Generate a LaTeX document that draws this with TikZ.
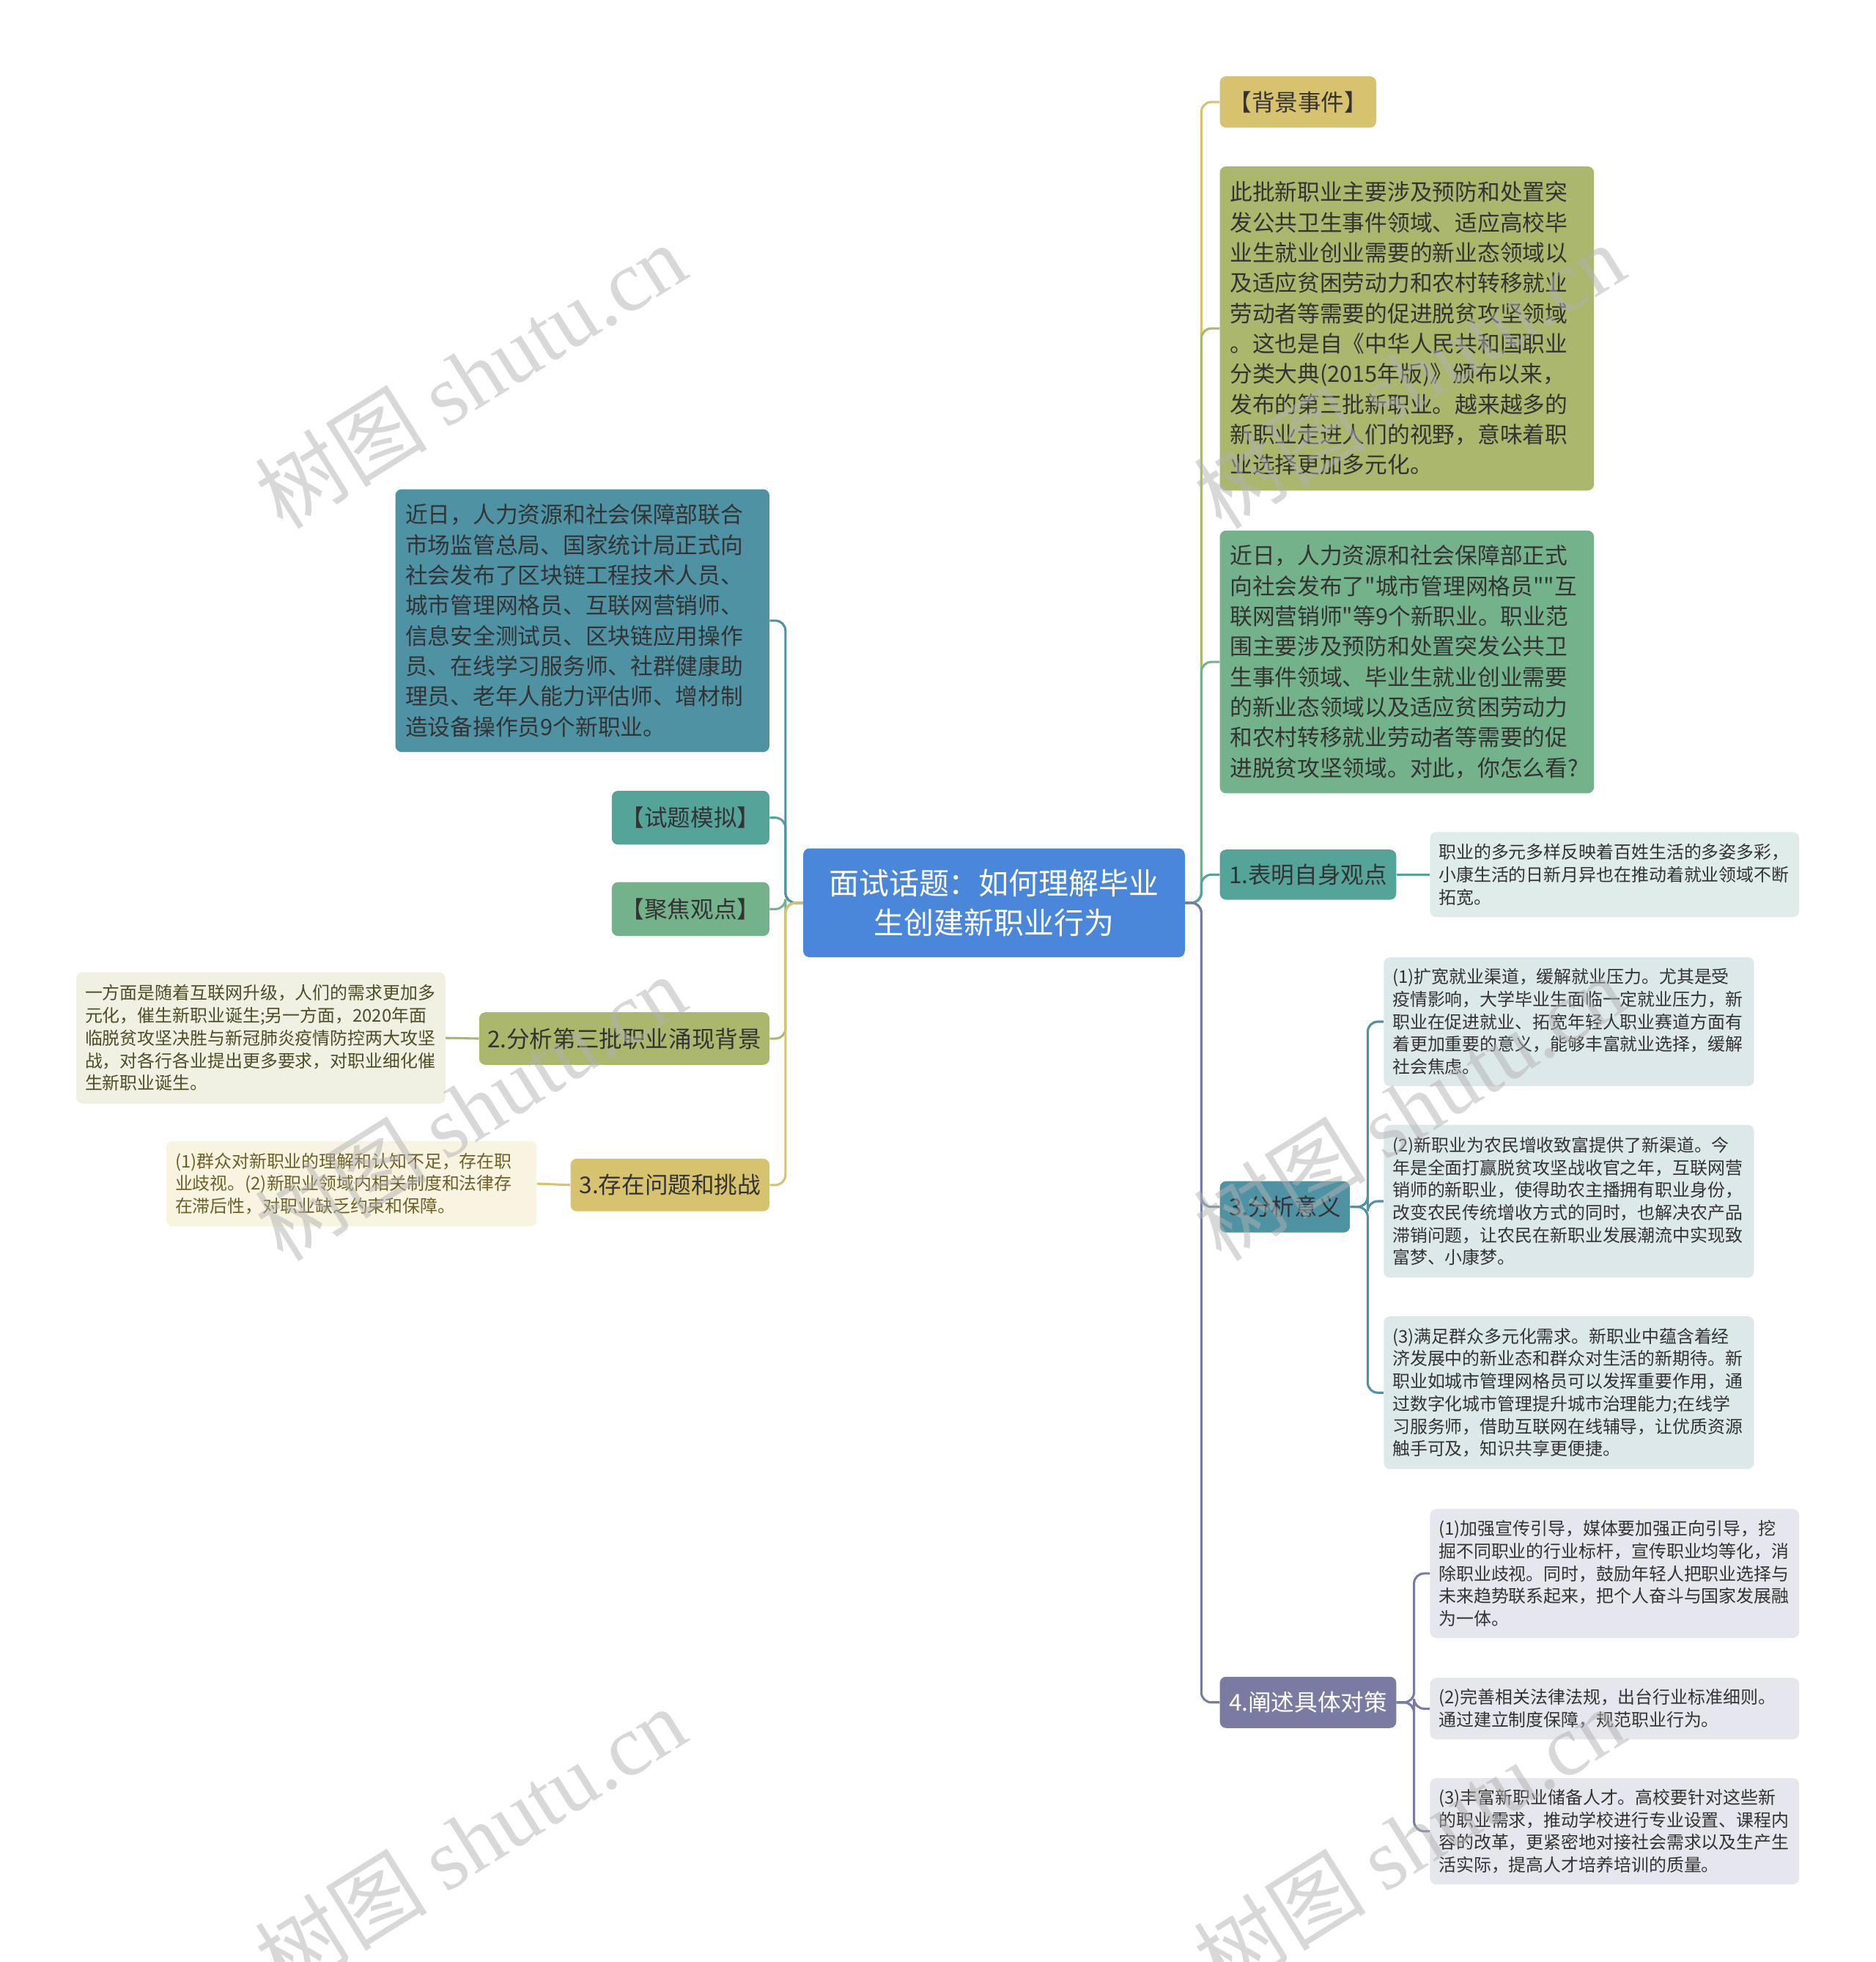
\documentclass[tikz,border=0pt]{standalone}
\usepackage{fontspec}
\setmainfont{Noto Sans CJK SC}[Ligatures=TeXOff]
\newfontfamily\wmlatin{Liberation Serif}
\definecolor{cRoot}{HTML}{4A86DA}
\definecolor{cBlue}{HTML}{4E92A3}
\definecolor{cTeal}{HTML}{55A49A}
\definecolor{cGreen}{HTML}{74B28C}
\definecolor{cOlive}{HTML}{ABB76C}
\definecolor{cGold}{HTML}{D6C26F}
\definecolor{cPurple}{HTML}{7A7BA3}
\definecolor{lOlive}{HTML}{F1F1E3}
\definecolor{lGold}{HTML}{F8F4E1}
\definecolor{lTeal}{HTML}{DFECEA}
\definecolor{lBlue}{HTML}{DDE8EB}
\definecolor{lPurple}{HTML}{E6E6EE}
\definecolor{txt}{HTML}{333333}
\definecolor{txtOlive}{HTML}{4D4D26}
\definecolor{txtGold}{HTML}{6E5F25}
\begin{document}
\begin{tikzpicture}[x=1pt,y=-1pt,
  box/.style={rectangle, rounded corners=5pt, inner sep=0pt, align=left, text=txt},
  big/.style={box, font=\fontsize{18}{24.2}\selectfont},
  small/.style={box, font=\fontsize{14}{18}\selectfont},
  lvl/.style={box, font=\fontsize{18.5}{22}\selectfont},
  twb/.style={minimum width=#1pt, text width=#1pt-16pt, inner xsep=8pt},
  tws/.style={minimum width=#1pt, text width=#1pt-14pt, inner xsep=7pt},
  conn/.style={line width=1.8pt, rounded corners=8pt},
  wm/.style={rotate=32, text=black!30, text opacity=0.5, font=\fontsize{69}{74}\selectfont}]
\useasboundingbox (0,0) rectangle (1499,1568);
\fill[white] (0,0) rectangle (1499,1568);

% root
\node[box, fill=cRoot, text=white, align=center, minimum width=305pt, minimum height=87pt,
  font=\fontsize{24}{32}\selectfont] (root) at (794.5,721.5) {面试话题：如何理解毕业\\生创建新职业行为};

% left side
\node[big, fill=cBlue, twb=299, minimum height=210pt] (L1) at (465.5,496)
 {近日，人力资源和社会保障部联合\\市场监管总局、国家统计局正式向\\社会发布了区块链工程技术人员、\\城市管理网格员、互联网营销师、\\信息安全测试员、区块链应用操作\\员、在线学习服务师、社群健康助\\理员、老年人能力评估师、增材制\\造设备操作员9个新职业。};
\node[lvl, fill=cTeal, minimum width=126pt, minimum height=43pt] (Lq) at (552,653.5) {【试题模拟】};
\node[lvl, fill=cGreen, minimum width=126pt, minimum height=43pt] (Lf) at (552,726.5) {【聚焦观点】};
\node[lvl, fill=cOlive, minimum width=232pt, minimum height=42pt] (L2) at (499,830) {2.分析第三批职业涌现背景};
\node[small, fill=lOlive, text=txtOlive, tws=295, minimum height=105pt] (L2c) at (208.5,829.5)
 {一方面是随着互联网升级，人们的需求更加多\\元化，催生新职业诞生;另一方面，2020年面\\临脱贫攻坚决胜与新冠肺炎疫情防控两大攻坚\\战，对各行各业提出更多要求，对职业细化催\\生新职业诞生。};
\node[lvl, fill=cGold, minimum width=159pt, minimum height=42pt] (L3) at (535.5,947) {3.存在问题和挑战};
\node[small, fill=lGold, text=txtGold, tws=296, minimum height=68pt] (L3c) at (281,946)
 {(1)群众对新职业的理解和认知不足，存在职\\业歧视。(2)新职业领域内相关制度和法律存\\在滞后性，对职业缺乏约束和保障。};

% right side
\node[lvl, fill=cGold, minimum width=125pt, minimum height=41pt] (R1) at (1037.5,81.5) {【背景事件】};
\node[big, fill=cOlive, twb=299, minimum height=259pt] (R2) at (1124.5,262.5)
 {此批新职业主要涉及预防和处置突\\发公共卫生事件领域、适应高校毕\\业生就业创业需要的新业态领域以\\及适应贫困劳动力和农村转移就业\\劳动者等需要的促进脱贫攻坚领域\\。这也是自《中华人民共和国职业\\分类大典(2015年版)》颁布以来，\\发布的第三批新职业。越来越多的\\新职业走进人们的视野，意味着职\\业选择更加多元化。};
\node[big, fill=cGreen, twb=299, minimum height=210pt] (R3) at (1124.5,529)
 {近日，人力资源和社会保障部正式\\向社会发布了"城市管理网格员""互\\联网营销师"等9个新职业。职业范\\围主要涉及预防和处置突发公共卫\\生事件领域、毕业生就业创业需要\\的新业态领域以及适应贫困劳动力\\和农村转移就业劳动者等需要的促\\进脱贫攻坚领域。对此，你怎么看?};
\node[lvl, fill=cTeal, minimum width=141pt, minimum height=40pt] (R4) at (1045.5,699) {1.表明自身观点};
\node[small, fill=lTeal, tws=295, minimum height=68pt] (R4c) at (1290.5,699)
 {职业的多元多样反映着百姓生活的多姿多彩，\\小康生活的日新月异也在推动着就业领域不断\\拓宽。};
\node[lvl, fill=cBlue, minimum width=104pt, minimum height=41pt] (R5) at (1027,964.5) {3.分析意义};
\node[small, fill=lBlue, tws=296, minimum height=103pt] (R5a) at (1254,816.5)
 {(1)扩宽就业渠道，缓解就业压力。尤其是受\\疫情影响，大学毕业生面临一定就业压力，新\\职业在促进就业、拓宽年轻人职业赛道方面有\\着更加重要的意义，能够丰富就业选择，缓解\\社会焦虑。};
\node[small, fill=lBlue, tws=296, minimum height=122pt] (R5b) at (1254,960)
 {(2)新职业为农民增收致富提供了新渠道。今\\年是全面打赢脱贫攻坚战收官之年，互联网营\\销师的新职业，使得助农主播拥有职业身份，\\改变农民传统增收方式的同时，也解决农产品\\滞销问题，让农民在新职业发展潮流中实现致\\富梦、小康梦。};
\node[small, fill=lBlue, tws=296, minimum height=122pt] (R5c) at (1254,1113)
 {(3)满足群众多元化需求。新职业中蕴含着经\\济发展中的新业态和群众对生活的新期待。新\\职业如城市管理网格员可以发挥重要作用，通\\过数字化城市管理提升城市治理能力;在线学\\习服务师，借助互联网在线辅导，让优质资源\\触手可及，知识共享更便捷。};
\node[lvl, fill=cPurple, text=white, minimum width=141pt, minimum height=41pt] (R6) at (1045.5,1360.5) {4.阐述具体对策};
\node[small, fill=lPurple, tws=295, minimum height=103pt] (R6a) at (1290.5,1257.5)
 {(1)加强宣传引导，媒体要加强正向引导，挖\\掘不同职业的行业标杆，宣传职业均等化，消\\除职业歧视。同时，鼓励年轻人把职业选择与\\未来趋势联系起来，把个人奋斗与国家发展融\\为一体。};
\node[small, fill=lPurple, tws=295, minimum height=49pt] (R6b) at (1290.5,1365.5)
 {(2)完善相关法律法规，出台行业标准细则。\\通过建立制度保障，规范职业行为。};
\node[small, fill=lPurple, tws=295, minimum height=85pt] (R6c) at (1290.5,1463.5)
 {(3)丰富新职业储备人才。高校要针对这些新\\的职业需求，推动学校进行专业设置、课程内\\容的改革，更紧密地对接社会需求以及生产生\\活实际，提高人才培养培训的质量。};

% connectors left
\draw[conn, draw=cGreen] (root.west) -- ++(-14,0) |- (Lf.east);
\draw[conn, draw=cTeal] (root.west) -- ++(-14,0) |- (Lq.east);
\draw[conn, draw=cBlue] (root.west) -- ++(-14,0) |- (L1.east);
\draw[conn, draw=cOlive] (root.west) -- ++(-14,0) |- (L2.east);
\draw[conn, draw=cGold] (root.west) -- ++(-14,0) |- (L3.east);
\draw[conn, draw=cOlive] (L2.west) -- (L2c.east);
\draw[conn, draw=cGold] (L3.west) -- (L3c.east);
% connectors right
\draw[conn, draw=cGold] (root.east) -- ++(13,0) |- (R1.west);
\draw[conn, draw=cOlive] (root.east) -- ++(13,0) |- (R2.west);
\draw[conn, draw=cGreen] (root.east) -- ++(13,0) |- (R3.west);
\draw[conn, draw=cTeal] (root.east) -- ++(13,0) |- (R4.west);
\draw[conn, draw=cBlue] (root.east) -- ++(13,0) |- (R5.west);
\draw[conn, draw=cPurple] (root.east) -- ++(13,0) |- (R6.west);
\draw[conn, draw=cTeal] (R4.east) -- (R4c.west);
\draw[conn, draw=cBlue] (R5.east) -- ++(14,0) |- (R5a.west);
\draw[conn, draw=cBlue] (R5.east) -- ++(14,0) |- (R5b.west);
\draw[conn, draw=cBlue] (R5.east) -- ++(14,0) |- (R5c.west);
\draw[conn, draw=cPurple] (R6.east) -- ++(14,0) |- (R6a.west);
\draw[conn, draw=cPurple] (R6.east) -- ++(14,0) |- (R6b.west);
\draw[conn, draw=cPurple] (R6.east) -- ++(14,0) |- (R6c.west);

% watermarks
\node[wm] (w1) at (376,300) {树图 {\wmlatin shutu.cn}};
\node[wm] (w2) at (376,885) {树图 {\wmlatin shutu.cn}};
\node[wm] (w3) at (376,1470) {树图 {\wmlatin shutu.cn}};
\node[wm] (w4) at (1126,300) {树图 {\wmlatin shutu.cn}};
\node[wm] (w5) at (1126,885) {树图 {\wmlatin shutu.cn}};
\node[wm] (w6) at (1126,1470) {树图 {\wmlatin shutu.cn}};
\end{tikzpicture}
\end{document}
